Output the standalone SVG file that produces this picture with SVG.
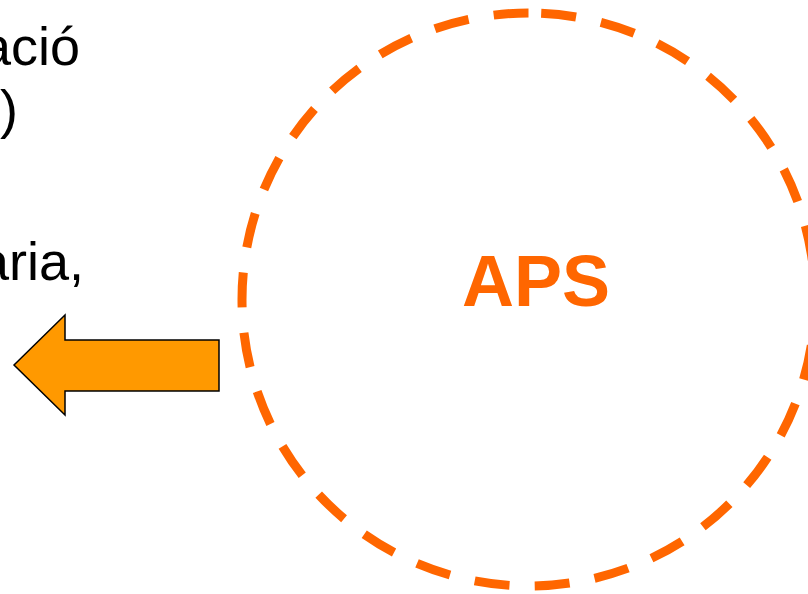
<svg xmlns="http://www.w3.org/2000/svg" width="808" height="594" viewBox="0 0 808 594">
<style>
.t{font-family:"Liberation Sans",Arial,sans-serif;font-size:54px;fill:#000}
.lbl{font-family:"Liberation Sans",Arial,sans-serif;font-weight:bold;font-size:72px;fill:#FF6600}
</style>
<rect width="808" height="594" fill="#fff"/>
<g id="text-left">
<text class="t" x="80" y="65" text-anchor="end">ació</text>
<text class="t" x="18" y="128" text-anchor="end">)</text>
<text class="t" x="84" y="280" text-anchor="end">ària,</text>
</g>
<g id="aps">
<path d="M528.5,13 A286.5,286.5 0 0 0 528.5,586 A286.5,286.5 0 0 0 528.5,13" fill="none" stroke="#FF6600" stroke-width="9" stroke-dasharray="35 25.4"/>
<text class="lbl" x="536" y="306" text-anchor="middle">APS</text>
</g>
<g id="connectors">
<polygon points="14,365 65,315 65,340 219,340 219,391 65,391 65,415" fill="#FF9900" stroke="#000" stroke-width="1.5" stroke-linejoin="miter"/>
</g>
</svg>
